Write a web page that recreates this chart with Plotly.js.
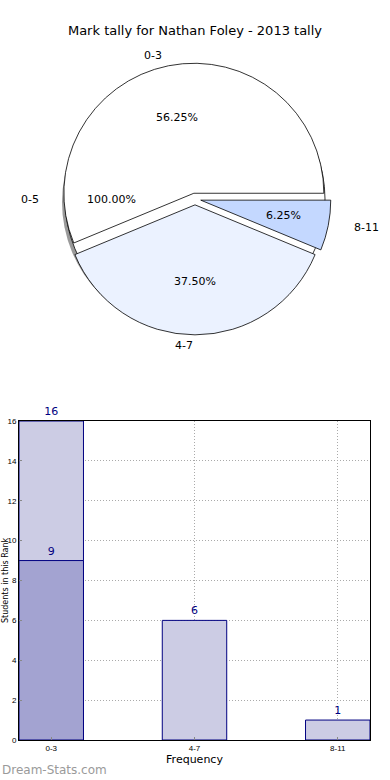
<!DOCTYPE html>
<html><head><meta charset="utf-8">
<script src="https://cdn.plot.ly/plotly-3.0.1.min.js"></script>
<style>html,body{margin:0;padding:0;background:#fff;} #chart{width:390px;height:780px;}</style>
</head><body><div id="chart"></div>
<script>
const chartTitle = 'Mark tally for Nathan Foley - 2013 tally';
const outerLabels = ['0-5'];
const outerValues = [16];
const pieLabels = ['0-3', '4-7', '8-11'];
const pieValues = [9, 6, 1];
const pieColors = ['#FFFFFF', '#EBF2FF', '#C4D8FF'];
const barCategories = ['0-3', '4-7', '8-11'];
const barTotals = [16, 6, 1];
const barHighlight = [9];
const yTicks = [0, 2, 4, 6, 8, 10, 12, 14, 16];
const xAxisTitle = 'Frequency';
const yAxisTitle = 'Students in this Rank';
const watermark = 'Dream-Stats.com';

const W = 390, H = 780;
const cx = 195, cy = 199, R = 130, PULL = 0.045;
const RX = 140, RY = 128; // text placement radii (reference pie is slightly oval)
const FONT = 'DejaVu Sans, sans-serif';
function px(x) { return x / W; }
function py(y) { return 1 - y / H; }
function domainFor(x0, y0, half) {
  return { x: [px(x0 - half), px(x0 + half)], y: [py(y0 + half), py(y0 - half)] };
}
const pieTotal = pieValues.reduce((a, b) => a + b, 0);
const mainRotation = 90 - pieValues[0] / pieTotal * 360;

const traces = [];
traces.push({
  type: 'pie', labels: outerLabels, values: outerValues, sort: false,
  domain: domainFor(cx - 3, cy + 3, R), marker: { colors: ['#9a9a9a'], line: { width: 0 } },
  textinfo: 'none', hoverinfo: 'skip', showlegend: false
});
traces.push({
  type: 'pie', labels: outerLabels, values: outerValues, sort: false,
  domain: domainFor(cx, cy, R), marker: { colors: ['#FFFFFF'], line: { color: '#000', width: 0.8 } },
  textinfo: 'none', showlegend: false
});
traces.push({
  type: 'pie', labels: pieLabels, values: pieValues, sort: false,
  direction: 'counterclockwise', rotation: mainRotation,
  pull: pieValues.map(() => PULL),
  domain: domainFor(cx, cy, R * (1 + PULL)),
  marker: { colors: pieColors, line: { color: '#000', width: 0.8 } },
  textinfo: 'none', showlegend: false
});

const annotations = [];
function addPieText(label, frac, theta, shift) {
  const t = theta * Math.PI / 180;
  const ox = cx + shift * Math.cos(t), oy = cy - shift * Math.sin(t);
  const lx = ox + 1.1 * RX * Math.cos(t), ly = oy - 1.1 * RY * Math.sin(t);
  annotations.push({ xref: 'paper', yref: 'paper', x: px(lx), y: py(ly), text: label, showarrow: false,
    xanchor: Math.cos(t) > 0 ? 'left' : 'right', yanchor: 'middle', font: { family: FONT, size: 11, color: '#000' } });
  const tx = ox + 0.6 * RX * Math.cos(t), ty = oy - 0.6 * RY * Math.sin(t);
  annotations.push({ xref: 'paper', yref: 'paper', x: px(tx), y: py(ty), text: (frac * 100).toFixed(2) + '%', showarrow: false,
    xanchor: 'center', yanchor: 'middle', font: { family: FONT, size: 11, color: '#000' } });
}
(function () {
  const tot = outerValues.reduce((a, b) => a + b, 0);
  let start = 0;
  outerValues.forEach((v, i) => {
    const f = v / tot; addPieText(outerLabels[i], f, start + f * 180, 0); start += f * 360;
  });
})();
(function () {
  let start = 0;
  pieValues.forEach((v, i) => {
    const f = v / pieTotal; addPieText(pieLabels[i], f, start + f * 180, PULL * R); start += f * 360;
  });
})();

traces.push({
  type: 'bar', x: barCategories, y: barTotals, width: 0.45, xaxis: 'x', yaxis: 'y',
  marker: { color: '#CCCCE4', line: { color: '#000080', width: 1 } },
  text: barTotals.map(String), textposition: 'outside', cliponaxis: false,
  textfont: { family: FONT, size: 11, color: '#000080' }, showlegend: false
});
traces.push({
  type: 'bar', x: barCategories.slice(0, barHighlight.length), y: barHighlight, width: 0.45, xaxis: 'x', yaxis: 'y',
  marker: { color: '#A3A3D1', line: { color: '#000080', width: 1 } },
  text: barHighlight.map(String), textposition: 'outside', cliponaxis: false,
  textfont: { family: FONT, size: 11, color: '#000080' }, showlegend: false
});

annotations.push({ xref: 'paper', yref: 'paper', x: px(0), y: py(770), text: watermark, showarrow: false,
  xanchor: 'left', yanchor: 'middle', font: { family: FONT, size: 12, color: '#9a9a9a' } });
annotations.push({ xref: 'paper', yref: 'paper', x: px(5), y: py(580), text: yAxisTitle, showarrow: false, textangle: -90,
  xanchor: 'center', yanchor: 'middle', borderpad: 0, font: { family: FONT, size: 8, color: '#000' } });

const axisCommon = {
  showgrid: true, gridcolor: '#aaaaaa', griddash: '1px,2px', gridwidth: 1,
  showline: true, linecolor: '#000', linewidth: 1, mirror: true,
  ticks: 'inside', ticklen: 3, tickcolor: '#888',
  tickfont: { family: 'Liberation Sans, sans-serif', size: 8, color: '#000' }, zeroline: false
};

const layout = {
  width: W, height: H, margin: { l: 0, r: 0, t: 0, b: 0 },
  paper_bgcolor: '#fff', plot_bgcolor: '#fff', showlegend: false, barmode: 'overlay',
  title: { text: chartTitle, x: 0.5, xanchor: 'center', y: py(30), yanchor: 'middle', font: { family: FONT, size: 13, color: '#000' } },
  xaxis: Object.assign({}, axisCommon, {
    domain: [px(19), px(370)], anchor: 'y', type: 'category', categoryorder: 'array', categoryarray: barCategories,
    range: [-0.225, 2.225], title: { text: xAxisTitle, font: { family: FONT, size: 11, color: '#000' }, standoff: 3 }
  }),
  yaxis: Object.assign({}, axisCommon, {
    domain: [py(740), py(421)], anchor: 'x', range: [0, 16], tickvals: yTicks, ticktext: yTicks.map(String)
  }),
  annotations: annotations
};

Plotly.newPlot('chart', traces, layout, { staticPlot: true, displayModeBar: false });
</script>
</body></html>
